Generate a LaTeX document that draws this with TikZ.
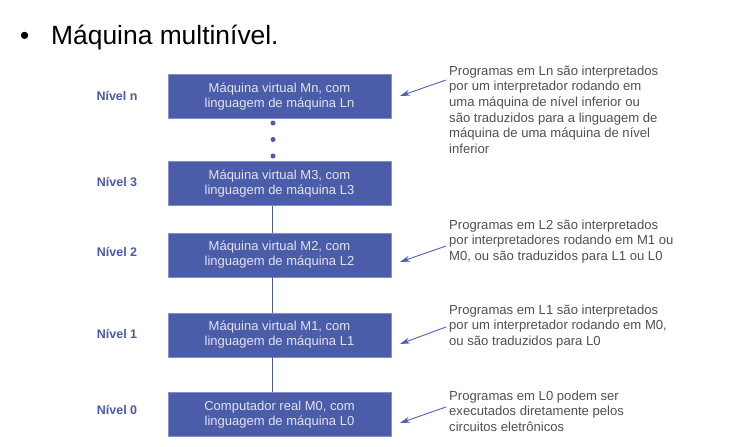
\documentclass[tikz,border=0pt]{standalone}
\usepackage{fontspec}
\setmainfont{Liberation Sans}
\usetikzlibrary{arrows.meta}
\definecolor{boxblue}{RGB}{75,92,168}
\definecolor{boxedge}{RGB}{130,145,205}
\definecolor{boxtext}{RGB}{225,229,242}
\definecolor{lvlblue}{RGB}{74,90,168}
\definecolor{notegray}{RGB}{80,80,80}
\definecolor{arrowblue}{RGB}{80,95,180}
\begin{document}
\begin{tikzpicture}[x=1pt,y=-1pt,
  machine/.style={fill=boxblue,draw=boxedge,line width=0.6pt,minimum width=223pt,minimum height=44pt,inner sep=0pt,align=center,text=boxtext,font=\fontsize{13}{15}\selectfont},
  level/.style={text=lvlblue,font=\fontsize{12.5}{15}\selectfont\bfseries,inner sep=0pt},
  note/.style={anchor=north west,align=left,inner sep=0pt,text=notegray,font=\fontsize{13.1}{15.7}\selectfont},
  pointer/.style={draw=arrowblue,line width=0.9pt,-{Stealth[length=10pt,width=6pt]}},
  link/.style={draw=boxblue,line width=0.9pt},
  dot/.style={circle,fill=boxblue,inner sep=0pt,minimum size=5pt}]
\useasboundingbox (0,0) rectangle (753,447);
% title
\node[anchor=base west,inner sep=0pt,font=\fontsize{26}{30}\selectfont] (bul) at (20,45) {•};
\node[anchor=base west,inner sep=0pt,font=\fontsize{26.4}{30}\selectfont] (title) at (51,45) {Máquina multinível.};
% boxes
\node[machine] (bn) at (279.5,96.5) {Máquina virtual Mn, com\\linguagem de máquina Ln};
\node[machine] (b3) at (279.5,183.5) {Máquina virtual M3, com\\linguagem de máquina L3};
\node[machine] (b2) at (279.5,255) {Máquina virtual M2, com\\linguagem de máquina L2};
\node[machine] (b1) at (279.5,335) {Máquina virtual M1, com\\linguagem de máquina L1};
\node[machine] (b0) at (279.5,414.5) {Computador real M0, com\\linguagem de máquina L0};
% levels
\node[level] (ln) at (117,96) {Nível n};
\node[level] (l3) at (117,182) {Nível 3};
\node[level] (l2) at (117,252) {Nível 2};
\node[level] (l1) at (117,334) {Nível 1};
\node[level] (l0) at (117,410) {Nível 0};
% dots
\node[dot] (d1) at (273,123) {};
\node[dot] (d2) at (273,139.5) {};
\node[dot] (d3) at (273,156) {};
% links
\draw[link] ([xshift=-7pt]b3.south) -- ([xshift=-7pt]b2.north);
\draw[link] ([xshift=-7pt]b2.south) -- ([xshift=-7pt]b1.north);
\draw[link] ([xshift=-7pt]b1.south) -- ([xshift=-7pt]b0.north);
% notes
\node[note] (nn) at (449,65.5) {Programas em Ln são interpretados\\por um interpretador rodando em\\uma máquina de nível inferior ou\\são traduzidos para a linguagem de\\máquina de uma máquina de nível\\inferior};
\node[note] (n2) at (449,219.5) {Programas em L2 são interpretados\\por interpretadores rodando em M1 ou\\M0, ou são traduzidos para L1 ou L0};
\node[note] (n1) at (449,304.5) {Programas em L1 são interpretados\\por um interpretador rodando em M0,\\ou são traduzidos para L0};
\node[note] (n0) at (449,390.5) {Programas em L0 podem ser\\executados diretamente pelos\\circuitos eletrônicos};
% arrows
\coordinate (sn) at (446,80);
\coordinate (tn) at (400,96);
\coordinate (s2) at (446,246);
\coordinate (t2) at (400,262);
\coordinate (s1) at (446,327);
\coordinate (t1) at (400,344);
\coordinate (s0) at (446,407);
\coordinate (t0) at (400,423);
\draw[pointer] (sn) -- (tn);
\draw[pointer] (s2) -- (t2);
\draw[pointer] (s1) -- (t1);
\draw[pointer] (s0) -- (t0);
\end{tikzpicture}
\end{document}
